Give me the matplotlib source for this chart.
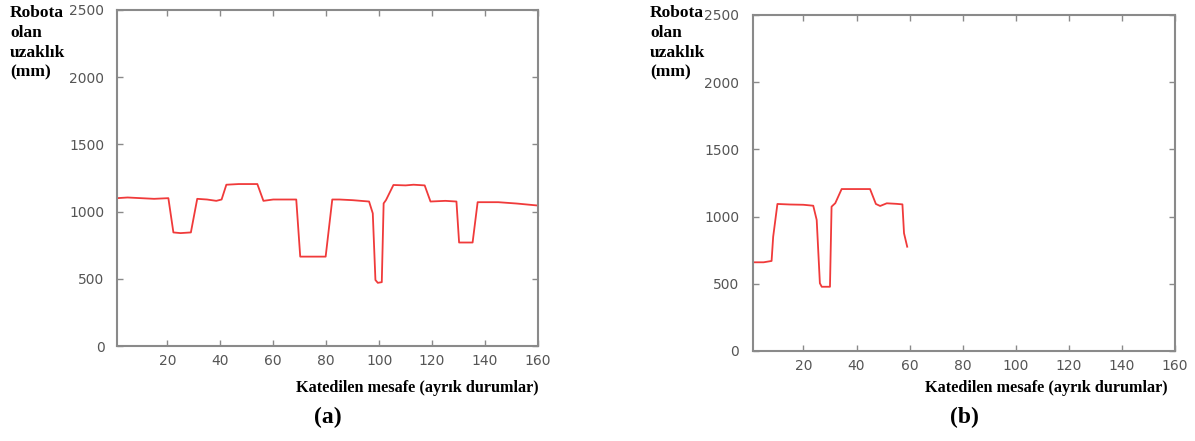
import matplotlib.pyplot as plt

# panel (a): distance to robot over traveled distance
x_a = [1, 5, 10, 15, 20.4, 22.3, 25, 28.9, 31.3, 35, 38.5, 40.5, 42.3,
       47, 54, 56.3, 60, 65, 68.7, 70.2, 75, 79.8, 82.3, 85, 90, 96.2,
       97.6, 98.6, 99.5, 101, 101.7, 102.6, 105.4, 110, 113, 117.2,
       119.4, 125, 129.2, 130.2, 135.3, 137.2, 145, 152, 160]
y_a = [1100, 1105, 1100, 1095, 1100, 845, 840, 845, 1095, 1090, 1080,
       1090, 1200, 1205, 1205, 1080, 1090, 1090, 1090, 665, 665, 665,
       1090, 1090, 1085, 1075, 987, 491, 470, 475, 1061, 1086, 1198,
       1195, 1200, 1195, 1075, 1080, 1075, 770, 770, 1070, 1070, 1060,
       1045]

# panel (b)
x_b = [1, 5, 8.0, 8.6, 10.2, 15, 20, 23.7, 25, 26.2, 26.9, 30, 30.6,
       32, 34.4, 40, 45.1, 47.3, 48.9, 51.4, 55, 57.3, 57.9, 59.1]
y_b = [660, 660, 670, 850, 1094, 1090, 1088, 1081, 975, 504, 478, 478,
       1074, 1100, 1205, 1205, 1205, 1094, 1079, 1099, 1095, 1091, 876,
       776]

x_ticks = [20, 40, 60, 80, 100, 120, 140, 160]
y_ticks = [0, 500, 1000, 1500, 2000, 2500]

ylabel = "Robota\nolan\nuzaklık\n(mm)"
xlabel = "Katedilen mesafe (ayrık durumlar)"

W, H = 1195, 441
fig = plt.figure(figsize=(W / 100, H / 100), dpi=100)

panels = [
    # x, y, axes box (px), ylabel x, tick pad, xlabel right, caption
    (x_a, y_a, (117, 10, 538, 346), 10, 9, 539, "(a)"),
    (x_b, y_b, (753, 15, 1175, 351), 650, 10, 1168, "(b)"),
]

for xs, ys, box, ylab_x, pad, xlab_r, cap in panels:
    l, t, r, b = box
    ax = fig.add_axes([l / W, 1 - b / H, (r - l) / W, (b - t) / H])
    ax.plot(xs, ys, color="#f03a3a", lw=1.3)
    ax.set_xlim(1, 160)
    ax.set_ylim(0, 2500)
    ax.set_xticks(x_ticks)
    ax.set_yticks(y_ticks)
    for s in ax.spines.values():
        s.set_color("#8a8a8a")
        s.set_linewidth(1.5)
    ax.tick_params(direction="in", top=True, right=True, length=4,
                   width=1, color="#8a8a8a", labelcolor="#555555",
                   labelsize=10)
    ax.tick_params(axis="y", pad=pad)
    ax.tick_params(axis="x", pad=6)

    fig.text(ylab_x / W, 1 - 5 / H, ylabel, ha="left", va="top",
             family="Liberation Serif", weight="bold", fontsize=12.5,
             linespacing=1.32)
    fig.text(xlab_r / W, 1 - 388 / H, xlabel, ha="right", va="center",
             family="Liberation Serif", weight="bold", fontsize=11.7)
    fig.text((l + r) / 2 / W, 1 - 417 / H, cap, ha="center", va="center",
             family="Liberation Serif", weight="bold", fontsize=17)

fig.savefig("out.png", dpi=100)
